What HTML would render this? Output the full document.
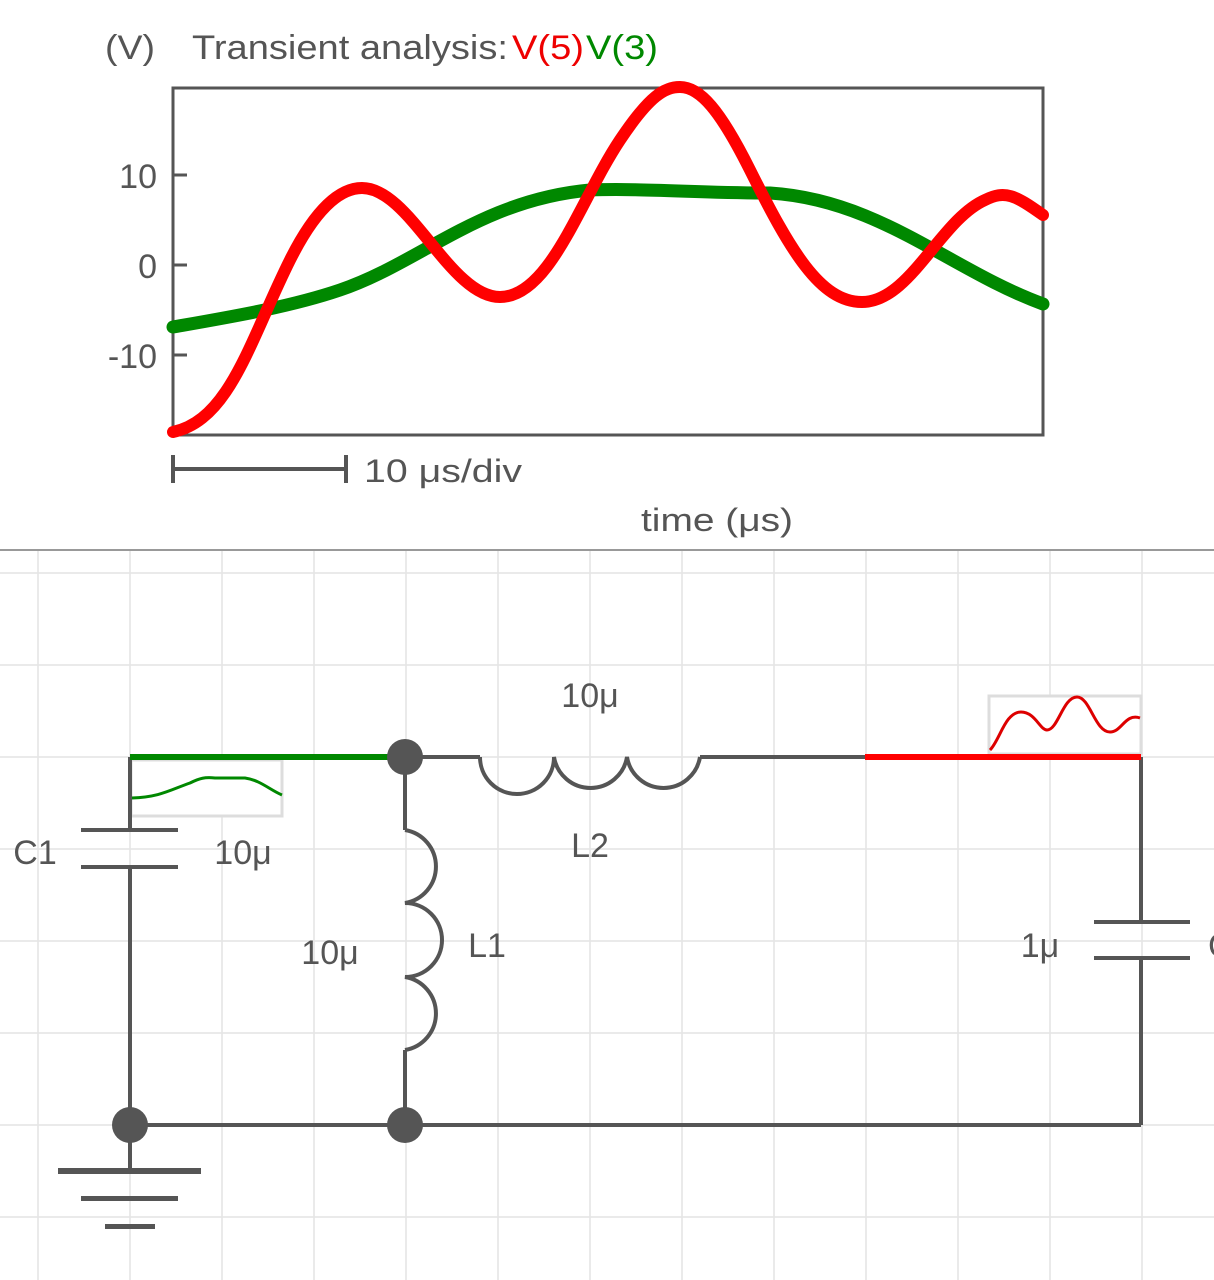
<!DOCTYPE html>
<html><head><meta charset="utf-8"><style>
html,body{margin:0;padding:0;background:#fff;width:1214px;height:1280px;overflow:hidden}
svg{display:block}
text{font-family:"Liberation Sans",sans-serif;fill:#555}
</style></head><body>
<svg width="1214" height="1280" viewBox="0 0 1214 1280" xmlns="http://www.w3.org/2000/svg">
<text x="105" y="59" font-size="34" textLength="50" lengthAdjust="spacingAndGlyphs">(V)</text>
<text x="192" y="59" font-size="34" textLength="316" lengthAdjust="spacingAndGlyphs">Transient analysis:</text>
<text x="512" y="59" font-size="34" style="fill:#e00" textLength="72" lengthAdjust="spacingAndGlyphs">V(5)</text>
<text x="586" y="59" font-size="34" style="fill:#080" textLength="72" lengthAdjust="spacingAndGlyphs">V(3)</text>
<rect x="173" y="88" width="870" height="347" fill="none" stroke="#555" stroke-width="3"/>
<g stroke="#555" stroke-width="3">
<line x1="173" y1="175" x2="187" y2="175"/>
<line x1="173" y1="265" x2="187" y2="265"/>
<line x1="173" y1="355" x2="187" y2="355"/>
</g>
<text x="157" y="188" font-size="34" text-anchor="end">10</text>
<text x="157" y="278" font-size="34" text-anchor="end">0</text>
<text x="157" y="368" font-size="34" text-anchor="end">-10</text>
<path d="M173,327 C230,317 290,307 340,290 C420,263 480,200 590,190 C640,188 700,193 770,193 C880,200 950,270 1043,304" fill="none" stroke="#080" stroke-width="13" stroke-linecap="round"/>
<path d="M173,432 C230,420 250,340 290,260 C320,200 345,188 362,188 C410,188 450,297 500,297 C550,297 580,200 620,140 C650,95 665,87 680,87 C700,87 720,110 750,170 C790,250 820,302 862,302 C910,302 940,220 985,200 C1005,190 1015,195 1043,215" fill="none" stroke="#f00" stroke-width="12" stroke-linecap="round"/>
<g stroke="#555" stroke-width="4">
<line x1="173" y1="469" x2="346" y2="469"/>
<line x1="173" y1="455" x2="173" y2="483"/>
<line x1="346" y1="455" x2="346" y2="483"/>
</g>
<text x="364" y="482" font-size="32" textLength="158" lengthAdjust="spacingAndGlyphs">10 μs/div</text>
<text x="641" y="531" font-size="32" textLength="152" lengthAdjust="spacingAndGlyphs">time (μs)</text>
<line x1="0" y1="550" x2="1214" y2="550" stroke="#999" stroke-width="2"/>
<g stroke="#e4e4e4" stroke-width="1.5">
<line x1="38" y1="551" x2="38" y2="1280"/><line x1="130" y1="551" x2="130" y2="1280"/><line x1="222" y1="551" x2="222" y2="1280"/><line x1="314" y1="551" x2="314" y2="1280"/><line x1="406" y1="551" x2="406" y2="1280"/><line x1="498" y1="551" x2="498" y2="1280"/><line x1="590" y1="551" x2="590" y2="1280"/><line x1="682" y1="551" x2="682" y2="1280"/><line x1="774" y1="551" x2="774" y2="1280"/><line x1="866" y1="551" x2="866" y2="1280"/><line x1="958" y1="551" x2="958" y2="1280"/><line x1="1050" y1="551" x2="1050" y2="1280"/><line x1="1142" y1="551" x2="1142" y2="1280"/>
<line x1="0" y1="573" x2="1214" y2="573"/><line x1="0" y1="665" x2="1214" y2="665"/><line x1="0" y1="757" x2="1214" y2="757"/><line x1="0" y1="849" x2="1214" y2="849"/><line x1="0" y1="941" x2="1214" y2="941"/><line x1="0" y1="1033" x2="1214" y2="1033"/><line x1="0" y1="1125" x2="1214" y2="1125"/><line x1="0" y1="1217" x2="1214" y2="1217"/>
</g>
<rect x="131" y="760" width="151" height="56" fill="#fff" stroke="#ddd" stroke-width="3"/>
<rect x="989" y="696" width="152" height="58" fill="#fff" stroke="#ddd" stroke-width="3"/>
<path d="M132,798 C160,797 170,790 190,783 C200,778 205,777 215,778 L245,778 C260,780 270,790 282,795" fill="none" stroke="#080" stroke-width="3"/>
<path d="M990,750 C1000,740 1005,712 1021,712 C1035,712 1040,730 1047,730 C1058,730 1063,697 1077,697 C1090,697 1095,732 1110,732 C1122,732 1125,713 1140,718" fill="none" stroke="#d00" stroke-width="3"/>
<g stroke="#555" stroke-width="4" fill="none">
<line x1="405" y1="757" x2="480" y2="757"/>
<path d="M480,757 A37,37 0 0 0 554,757 A37,37 0 0 0 627,757 A37,37 0 0 0 700,757"/>
<line x1="700" y1="757" x2="865" y2="757"/>
<line x1="1141" y1="757" x2="1141" y2="922"/>
<line x1="1094" y1="922" x2="1190" y2="922"/>
<line x1="1094" y1="958" x2="1190" y2="958"/>
<line x1="1141" y1="958" x2="1141" y2="1125"/>
<line x1="130" y1="1125" x2="1141" y2="1125"/>
<line x1="130" y1="757" x2="130" y2="830"/>
<line x1="81" y1="830" x2="178" y2="830"/>
<line x1="81" y1="867" x2="178" y2="867"/>
<line x1="130" y1="867" x2="130" y2="1125"/>
<line x1="130" y1="1125" x2="130" y2="1171"/>
<line x1="405" y1="757" x2="405" y2="830"/>
<path d="M405,830 A37,37 0 0 1 405,903 A37,37 0 0 1 405,977 A37,37 0 0 1 405,1050"/>
<line x1="405" y1="1050" x2="405" y2="1125"/>
</g>
<g fill="#555">
<rect x="58" y="1168" width="143" height="6"/>
<rect x="81" y="1196" width="97" height="5"/>
<rect x="105" y="1224" width="50" height="5"/>
</g>
<line x1="130" y1="757" x2="405" y2="757" stroke="#080" stroke-width="6"/>
<line x1="865" y1="757" x2="1141" y2="757" stroke="#f00" stroke-width="6"/>
<circle cx="405" cy="757" r="18" fill="#555"/>
<circle cx="130" cy="1125" r="18" fill="#555"/>
<circle cx="405" cy="1125" r="18" fill="#555"/>
<text x="590" y="707" font-size="34" text-anchor="middle">10μ</text>
<text x="590" y="857" font-size="34" text-anchor="middle">L2</text>
<text x="35" y="864" font-size="34" text-anchor="middle">C1</text>
<text x="243" y="864" font-size="34" text-anchor="middle">10μ</text>
<text x="330" y="964" font-size="34" text-anchor="middle">10μ</text>
<text x="487" y="957" font-size="34" text-anchor="middle">L1</text>
<text x="1040" y="957" font-size="34" text-anchor="middle">1μ</text>
<text x="1208" y="957" font-size="34">C</text>
</svg>
</body></html>
